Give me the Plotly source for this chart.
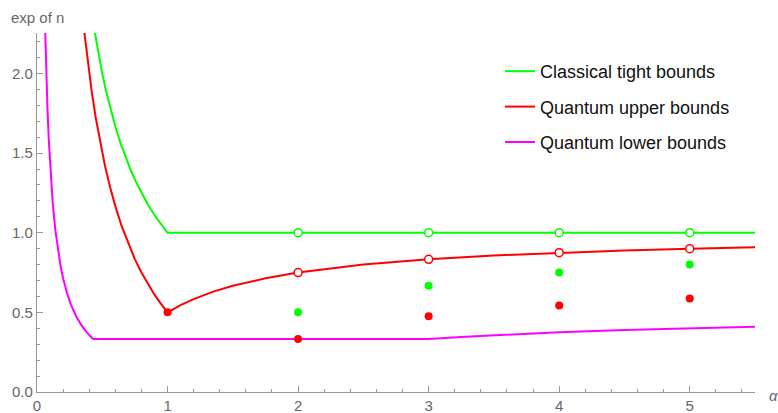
import plotly.graph_objects as go

# ---- data ----
classical_x = [0.443, 0.46, 0.48, 0.50, 0.53, 0.56, 0.60, 0.64, 0.68, 0.72, 0.76, 0.80,
               0.85, 0.90, 0.95, 1.00, 5.50]
classical_y = [2.257, 2.174, 2.083, 2.000, 1.887, 1.786, 1.667, 1.563, 1.471, 1.389, 1.316,
               1.250, 1.176, 1.111, 1.053, 1.000, 1.000]

upper_x = [0.362, 0.38, 0.40, 0.42, 0.45, 0.48, 0.52, 0.56, 0.60, 0.65, 0.70, 0.75, 0.80,
           0.85, 0.90, 0.95, 1.00, 1.10, 1.20, 1.35, 1.50, 1.75, 2.00, 2.50, 3.00, 3.50,
           4.00, 4.50, 5.00, 5.50]
upper_y = [2.262, 2.132, 2.000, 1.881, 1.722, 1.583, 1.423, 1.286, 1.167, 1.038, 0.929,
           0.833, 0.750, 0.676, 0.611, 0.553, 0.500, 0.545, 0.583, 0.630, 0.667, 0.714,
           0.750, 0.800, 0.833, 0.857, 0.875, 0.889, 0.900, 0.909]

lower_x = [0.063, 0.07, 0.08, 0.09, 0.10, 0.11, 0.12, 0.14, 0.16, 0.18, 0.20, 0.23, 0.26,
           0.30, 0.34, 0.38, 0.429, 3.00, 3.25, 3.50, 4.00, 4.50, 5.00, 5.50]
lower_y = [2.268, 2.041, 1.786, 1.587, 1.429, 1.299, 1.190, 1.020, 0.893, 0.794, 0.714,
           0.621, 0.549, 0.476, 0.420, 0.376, 0.333, 0.333, 0.346, 0.357, 0.375, 0.389,
           0.400, 0.409]

open_x = [2, 3, 4, 5]
classical_open_y = [1.0, 1.0, 1.0, 1.0]
upper_open_y = [0.75, 0.833, 0.875, 0.9]

green_dot_x = [2, 3, 4, 5]
green_dot_y = [0.5, 0.667, 0.75, 0.8]

red_dot_x = [1, 2, 3, 4, 5]
red_dot_y = [0.5, 0.333, 0.475, 0.543, 0.587]

x_ticks = [0, 1, 2, 3, 4, 5]
y_ticks = [0.0, 0.5, 1.0, 1.5, 2.0]
y_tick_text = ["0.0", "0.5", "1.0", "1.5", "2.0"]

GREEN = "#00ff00"
RED = "#ff0000"
MAGENTA = "#ff00ff"
AXIS = "#999999"
TXT = "#666666"
FONT = "Liberation Sans, Arial, sans-serif"

fig = go.Figure()
fig.add_trace(go.Scatter(x=classical_x, y=classical_y, mode="lines",
                         line=dict(color=GREEN, width=2),
                         name="Classical tight bounds", legendgroup="a"))
fig.add_trace(go.Scatter(x=upper_x, y=upper_y, mode="lines",
                         line=dict(color=RED, width=2),
                         name="Quantum upper bounds", legendgroup="b"))
fig.add_trace(go.Scatter(x=lower_x, y=lower_y, mode="lines",
                         line=dict(color=MAGENTA, width=2),
                         name="Quantum lower bounds", legendgroup="c"))

fig.add_trace(go.Scatter(x=open_x, y=classical_open_y, mode="markers", showlegend=False,
                         marker=dict(size=8, color="white", line=dict(color=GREEN, width=1.5))))
fig.add_trace(go.Scatter(x=open_x, y=upper_open_y, mode="markers", showlegend=False,
                         marker=dict(size=8, color="white", line=dict(color=RED, width=1.5))))
fig.add_trace(go.Scatter(x=green_dot_x, y=green_dot_y, mode="markers", showlegend=False,
                         marker=dict(size=8, color=GREEN)))
fig.add_trace(go.Scatter(x=red_dot_x, y=red_dot_y, mode="markers", showlegend=False,
                         marker=dict(size=8, color=RED)))

fig.update_layout(
    width=778, height=413,
    margin=dict(l=37, r=23, t=33, b=21, autoexpand=False),
    paper_bgcolor="white", plot_bgcolor="white",
    font=dict(family=FONT, size=15, color=TXT),
    showlegend=True,
    legend=dict(x=(500 - 37) / 718, xanchor="left", y=(392 - 53) / 359, yanchor="top",
                font=dict(family=FONT, size=18, color="#111111"),
                bgcolor="rgba(0,0,0,0)", borderwidth=0, tracegroupgap=9,
                itemwidth=30),
    xaxis=dict(range=[0, 5.5], showgrid=False, zeroline=False, showline=True,
               linecolor=AXIS, linewidth=1.2, ticks="inside", ticklen=6, tickwidth=1,
               tickcolor=AXIS, tickvals=x_ticks, tickfont=dict(size=15, color=TXT),
               minor=dict(ticks="inside", ticklen=3, dtick=0.2, tick0=0, tickcolor=AXIS,
                          showgrid=False),
               automargin=False),
    yaxis=dict(range=[0, 2.254], showgrid=False, zeroline=False, showline=True,
               linecolor=AXIS, linewidth=1.2, ticks="inside", ticklen=6, tickwidth=1,
               tickcolor=AXIS, tickvals=y_ticks, ticktext=y_tick_text,
               tickfont=dict(size=15, color=TXT),
               minor=dict(ticks="inside", ticklen=3, dtick=0.1, tick0=0, tickcolor=AXIS,
                          showgrid=False),
               automargin=False),
    annotations=[
        dict(text="exp of n", xref="paper", yref="paper", x=(9 - 37) / 718, y=(392 - 17) / 359,
             xanchor="left", yanchor="middle", showarrow=False,
             font=dict(family=FONT, size=15, color=TXT)),
        dict(text="<i>α</i>", xref="paper", yref="paper", x=(767 - 37) / 718, y=(392 - 395) / 359,
             xanchor="left", yanchor="middle", showarrow=False,
             font=dict(family=FONT, size=15, color=TXT)),
    ],
)

fig.write_html("out.html", config={"displayModeBar": False},
               post_script="document.body.style.margin='0';")
